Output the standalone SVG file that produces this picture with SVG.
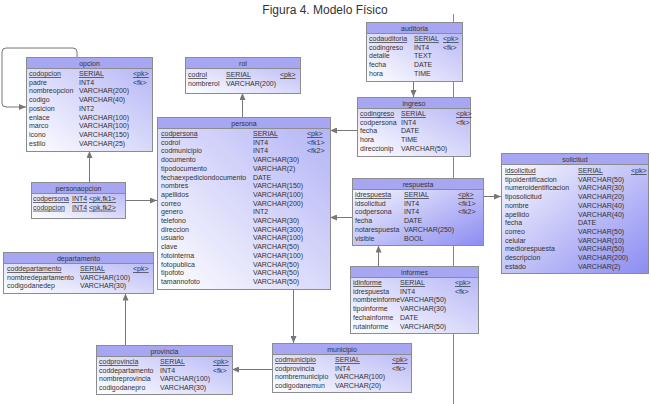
<svg xmlns="http://www.w3.org/2000/svg" width="651" height="404" viewBox="0 0 651 404">
<defs>
<linearGradient id="gA" x1="0" y1="1" x2="1" y2="0"><stop offset="0" stop-color="#ffffff"/><stop offset="1" stop-color="#b2b2f6"/></linearGradient>
<linearGradient id="gB" x1="0" y1="0" x2="1" y2="1"><stop offset="0" stop-color="#ffffff"/><stop offset="1" stop-color="#8c8cf2"/></linearGradient>
<marker id="arr" viewBox="0 0 7 6" refX="7" refY="3" markerWidth="7" markerHeight="6" orient="auto" markerUnits="userSpaceOnUse"><path d="M0,0 L7,3 L0,6 z" fill="#777"/></marker>
</defs>
<style>
.box{stroke:#8c8c8c;stroke-width:1}
.hdr{fill:#a6a6f2;stroke:#8c8c8c;stroke-width:1}
text{font-family:"Liberation Sans",Arial,sans-serif;font-size:7px;fill:#333}
.t{font-size:12px;fill:#333;text-anchor:middle}
.h{text-anchor:middle}
.pk{text-decoration:underline}
.c{fill:none;stroke:#777;stroke-width:1;marker-end:url(#arr)}
.pg{stroke:#888;stroke-width:1}
</style>
<rect width="651" height="404" fill="#ffffff"/>
<text class="t" x="325" y="14">Figura 4. Modelo Físico</text>
<line class="pg" x1="453.5" y1="14" x2="453.5" y2="404"/>

<g id="connectors">
<path class="c" d="M77,57 V52 Q77,48 73,48 H6 Q2,48 2,52 V103 Q2,107 6,107 H26"/>
<path class="c" d="M242.5,117 V93"/>
<path class="c" d="M89.5,182 V151"/>
<path class="c" d="M125,200.5 H157"/>
<path class="c" d="M357,130.5 H330"/>
<path class="c" d="M352,217.5 H330"/>
<path class="c" d="M293.5,289 V343"/>
<path class="c" d="M272,369.5 H232"/>
<path class="c" d="M125.5,345 V293.5"/>
<path class="c" d="M413.5,81 V97"/>
<path class="c" d="M378.5,266 V245.5"/>
<path class="c" d="M483,196.5 H501"/>
</g>

<g id="opcion">
<rect class="box" fill="url(#gA)" x="26.5" y="57.5" width="126" height="94"/>
<rect class="hdr" x="26.5" y="57.5" width="126" height="11"/>
<text class="h" x="89.5" y="66">opcion</text>
<text class="pk" x="29" y="76">codopcion</text><text class="pk" x="79" y="76">SERIAL</text><text class="pk" x="133" y="76">&lt;pk&gt;</text>
<text x="29" y="84.7">padre</text><text x="79" y="84.7">INT4</text><text x="133" y="84.7">&lt;fk&gt;</text>
<text x="29" y="93.4">nombreopcion</text><text x="79" y="93.4">VARCHAR(200)</text>
<text x="29" y="102.1">codigo</text><text x="79" y="102.1">VARCHAR(40)</text>
<text x="29" y="110.8">posicion</text><text x="79" y="110.8">INT2</text>
<text x="29" y="119.5">enlace</text><text x="79" y="119.5">VARCHAR(100)</text>
<text x="29" y="128.2">marco</text><text x="79" y="128.2">VARCHAR(100)</text>
<text x="29" y="136.9">icono</text><text x="79" y="136.9">VARCHAR(150)</text>
<text x="29" y="145.6">estilo</text><text x="79" y="145.6">VARCHAR(25)</text>
</g>

<g id="rol">
<rect class="box" fill="url(#gA)" x="185.5" y="57.5" width="115" height="36"/>
<rect class="hdr" x="185.5" y="57.5" width="115" height="11"/>
<text class="h" x="243" y="66">rol</text>
<text class="pk" x="188" y="77">codrol</text><text class="pk" x="226" y="77">SERIAL</text><text class="pk" x="280" y="77">&lt;pk&gt;</text>
<text x="188" y="85.7">nombrerol</text><text x="226" y="85.7">VARCHAR(200)</text>
</g>

<g id="auditoria">
<rect class="box" fill="url(#gA)" x="366.5" y="22.5" width="96" height="59"/>
<rect class="hdr" x="366.5" y="22.5" width="96" height="11"/>
<text class="h" x="414.5" y="31">auditoria</text>
<text class="pk" x="369" y="41">codauditoria</text><text class="pk" x="414" y="41">SERIAL</text><text class="pk" x="443" y="41">&lt;pk&gt;</text>
<text x="369" y="49.7">codingreso</text><text x="414" y="49.7">INT4</text><text x="443" y="49.7">&lt;fk&gt;</text>
<text x="369" y="58.4">detalle</text><text x="414" y="58.4">TEXT</text>
<text x="369" y="67.1">fecha</text><text x="414" y="67.1">DATE</text>
<text x="369" y="75.8">hora</text><text x="414" y="75.8">TIME</text>
</g>

<g id="ingreso">
<rect class="box" fill="url(#gA)" x="357.5" y="97.5" width="113" height="59"/>
<rect class="hdr" x="357.5" y="97.5" width="113" height="11"/>
<text class="h" x="414" y="106">ingreso</text>
<text class="pk" x="360" y="116">codingreso</text><text class="pk" x="401" y="116">SERIAL</text><text class="pk" x="456" y="116">&lt;pk&gt;</text>
<text x="360" y="124.7">codpersona</text><text x="401" y="124.7">INT4</text><text x="456" y="124.7">&lt;fk&gt;</text>
<text x="360" y="133.4">fecha</text><text x="401" y="133.4">DATE</text>
<text x="360" y="142.1">hora</text><text x="401" y="142.1">TIME</text>
<text x="360" y="150.8">direccionip</text><text x="401" y="150.8">VARCHAR(50)</text>
</g>

<g id="persona">
<rect class="box" fill="url(#gA)" x="157.5" y="117.5" width="173" height="172"/>
<rect class="hdr" x="157.5" y="117.5" width="173" height="11"/>
<text class="h" x="244" y="126">persona</text>
<text class="pk" x="161" y="136">codpersona</text><text class="pk" x="253" y="136">SERIAL</text><text class="pk" x="307" y="136">&lt;pk&gt;</text>
<text x="161" y="144.7">codrol</text><text x="253" y="144.7">INT4</text><text x="307" y="144.7">&lt;fk1&gt;</text>
<text x="161" y="153.4">codmunicipio</text><text x="253" y="153.4">INT4</text><text x="307" y="153.4">&lt;fk2&gt;</text>
<text x="161" y="162.1">documento</text><text x="253" y="162.1">VARCHAR(30)</text>
<text x="161" y="170.8">tipodocumento</text><text x="253" y="170.8">VARCHAR(2)</text>
<text x="161" y="179.5">fechaexpediciondocumento</text><text x="253" y="179.5">DATE</text>
<text x="161" y="188.2">nombres</text><text x="253" y="188.2">VARCHAR(150)</text>
<text x="161" y="196.9">apellidos</text><text x="253" y="196.9">VARCHAR(100)</text>
<text x="161" y="205.6">correo</text><text x="253" y="205.6">VARCHAR(200)</text>
<text x="161" y="214.3">genero</text><text x="253" y="214.3">INT2</text>
<text x="161" y="223">telefono</text><text x="253" y="223">VARCHAR(30)</text>
<text x="161" y="231.7">direccion</text><text x="253" y="231.7">VARCHAR(300)</text>
<text x="161" y="240.4">usuario</text><text x="253" y="240.4">VARCHAR(100)</text>
<text x="161" y="249.1">clave</text><text x="253" y="249.1">VARCHAR(50)</text>
<text x="161" y="257.8">fotointerna</text><text x="253" y="257.8">VARCHAR(100)</text>
<text x="161" y="266.5">fotopublica</text><text x="253" y="266.5">VARCHAR(50)</text>
<text x="161" y="275.2">tipofoto</text><text x="253" y="275.2">VARCHAR(50)</text>
<text x="161" y="283.9">tamannofoto</text><text x="253" y="283.9">VARCHAR(50)</text>
</g>

<g id="respuesta">
<rect class="box" fill="url(#gB)" x="352.5" y="178.5" width="131" height="67"/>
<rect class="hdr" x="352.5" y="178.5" width="131" height="11"/>
<text class="h" x="418" y="187">respuesta</text>
<text class="pk" x="355" y="197">idrespuesta</text><text class="pk" x="404" y="197">SERIAL</text><text class="pk" x="458" y="197">&lt;pk&gt;</text>
<text x="355" y="205.7">idsolicitud</text><text x="404" y="205.7">INT4</text><text x="458" y="205.7">&lt;fk1&gt;</text>
<text x="355" y="214.4">codpersona</text><text x="404" y="214.4">INT4</text><text x="458" y="214.4">&lt;fk2&gt;</text>
<text x="355" y="223.1">fecha</text><text x="404" y="223.1">DATE</text>
<text x="355" y="231.8">notarespuesta</text><text x="404" y="231.8">VARCHAR(250)</text>
<text x="355" y="240.5">visible</text><text x="404" y="240.5">BOOL</text>
</g>

<g id="informes">
<rect class="box" fill="url(#gA)" x="350.5" y="266.5" width="128" height="67"/>
<rect class="hdr" x="350.5" y="266.5" width="128" height="11"/>
<text class="h" x="414.5" y="275">informes</text>
<text class="pk" x="353" y="285">idinforme</text><text class="pk" x="400" y="285">SERIAL</text><text class="pk" x="455" y="285">&lt;pk&gt;</text>
<text x="353" y="293.7">idrespuesta</text><text x="400" y="293.7">INT4</text><text x="455" y="293.7">&lt;fk&gt;</text>
<text x="353" y="302.4">nombreinforme</text><text x="400" y="302.4">VARCHAR(50)</text>
<text x="353" y="311.1">tipoinforme</text><text x="400" y="311.1">VARCHAR(30)</text>
<text x="353" y="319.8">fechainforme</text><text x="400" y="319.8">DATE</text>
<text x="353" y="328.5">rutainforme</text><text x="400" y="328.5">VARCHAR(50)</text>
</g>

<g id="solicitud">
<rect class="box" fill="url(#gB)" x="501.5" y="153.5" width="147" height="120"/>
<rect class="hdr" x="501.5" y="153.5" width="147" height="11"/>
<text class="h" x="575" y="162">solicitud</text>
<text class="pk" x="505" y="173">idsolicitud</text><text class="pk" x="578" y="173">SERIAL</text><text class="pk" x="631" y="173">&lt;pk&gt;</text>
<text x="505" y="181.7">tipoidentificacion</text><text x="578" y="181.7">VARCHAR(50)</text>
<text x="505" y="190.4">numeroidentificacion</text><text x="578" y="190.4">VARCHAR(30)</text>
<text x="505" y="199.1">tiposolicitud</text><text x="578" y="199.1">VARCHAR(20)</text>
<text x="505" y="207.8">nombre</text><text x="578" y="207.8">VARCHAR(40)</text>
<text x="505" y="216.5">apellido</text><text x="578" y="216.5">VARCHAR(40)</text>
<text x="505" y="225.2">fecha</text><text x="578" y="225.2">DATE</text>
<text x="505" y="233.9">correo</text><text x="578" y="233.9">VARCHAR(50)</text>
<text x="505" y="242.6">celular</text><text x="578" y="242.6">VARCHAR(10)</text>
<text x="505" y="251.3">mediorespuesta</text><text x="578" y="251.3">VARCHAR(50)</text>
<text x="505" y="260">descripcion</text><text x="578" y="260">VARCHAR(200)</text>
<text x="505" y="268.7">estado</text><text x="578" y="268.7">VARCHAR(2)</text>
</g>

<g id="personaopcion">
<rect class="box" fill="url(#gA)" x="31.5" y="182.5" width="94" height="36"/>
<rect class="hdr" x="31.5" y="182.5" width="94" height="11"/>
<text class="h" x="78.5" y="191">personaopcion</text>
<text class="pk" x="33" y="201" textLength="36">codpersona</text><text class="pk" x="72" y="201">INT4</text><text class="pk" x="89" y="201">&lt;pk,fk1&gt;</text>
<text class="pk" x="33" y="209.7">codopcion</text><text class="pk" x="72" y="209.7">INT4</text><text class="pk" x="89" y="209.7">&lt;pk,fk2&gt;</text>
</g>

<g id="departamento">
<rect class="box" fill="url(#gA)" x="3.5" y="252.5" width="150" height="41"/>
<rect class="hdr" x="3.5" y="252.5" width="150" height="11"/>
<text class="h" x="78.5" y="261">departamento</text>
<text class="pk" x="7" y="271">coddepartamento</text><text class="pk" x="80" y="271">SERIAL</text><text class="pk" x="133" y="271">&lt;pk&gt;</text>
<text x="7" y="279.7">nombredepartamento</text><text x="80" y="279.7">VARCHAR(100)</text>
<text x="7" y="288.4">codigodanedep</text><text x="80" y="288.4">VARCHAR(30)</text>
</g>

<g id="provincia">
<rect class="box" fill="url(#gA)" x="96.5" y="345.5" width="136" height="49"/>
<rect class="hdr" x="96.5" y="345.5" width="136" height="11"/>
<text class="h" x="164.5" y="354">provincia</text>
<text class="pk" x="99" y="364">codprovincia</text><text class="pk" x="160" y="364">SERIAL</text><text class="pk" x="213" y="364">&lt;pk&gt;</text>
<text x="99" y="372.7">coddepartamento</text><text x="160" y="372.7">INT4</text><text x="213" y="372.7">&lt;fk&gt;</text>
<text x="99" y="381.4">nombreprovincia</text><text x="160" y="381.4">VARCHAR(100)</text>
<text x="99" y="390.1">codigodanepro</text><text x="160" y="390.1">VARCHAR(30)</text>
</g>

<g id="municipio">
<rect class="box" fill="url(#gA)" x="272.5" y="343.5" width="139" height="49"/>
<rect class="hdr" x="272.5" y="343.5" width="139" height="11"/>
<text class="h" x="342" y="352">municipio</text>
<text class="pk" x="275" y="362">codmunicipio</text><text class="pk" x="335" y="362">SERIAL</text><text class="pk" x="392" y="362">&lt;pk&gt;</text>
<text x="275" y="370.7">codprovincia</text><text x="335" y="370.7">INT4</text><text x="392" y="370.7">&lt;fk&gt;</text>
<text x="275" y="379.4">nombremunicipio</text><text x="335" y="379.4">VARCHAR(100)</text>
<text x="275" y="388.1">codigodanemun</text><text x="335" y="388.1">VARCHAR(20)</text>
</g>
</svg>
